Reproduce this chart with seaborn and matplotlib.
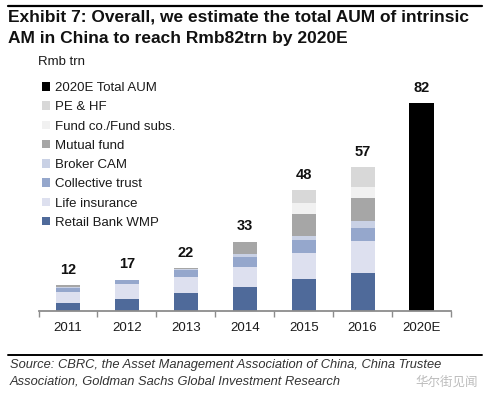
import matplotlib
matplotlib.use("Agg")
import matplotlib.pyplot as plt
from matplotlib.patches import Patch
from matplotlib.lines import Line2D
import seaborn as sns
import numpy as np
import pandas as pd

# ---- data ----
years = ['2011', '2012', '2013', '2014', '2015', '2016', '2020E']
retail_bank_wmp = [3.0, 4.6, 7.2, 9.6, 12.6, 14.9, 0]
life_insurance = [4.6, 6.0, 6.3, 7.9, 10.4, 12.5, 0]
collective_trust = [1.3, 1.6, 2.5, 3.9, 5.0, 5.3, 0]
broker_cam = [0.6, 0.2, 0.5, 0.9, 1.7, 2.6, 0]
mutual_fund = [0.6, 0.0, 0.5, 5.0, 8.4, 9.2, 0]
fund_co_subs = [0, 0, 0, 0, 4.3, 4.3, 0]
pe_hf = [0, 0, 0, 0, 5.2, 7.9, 0]
total_2020e = [0, 0, 0, 0, 0, 0, 82]
total_labels = [12, 17, 22, 33, 48, 57, 82]

series_names = ['Retail Bank WMP', 'Life insurance', 'Collective trust', 'Broker CAM',
                'Mutual fund', 'Fund co./Fund subs.', 'PE & HF', '2020E Total AUM']
series_values = [retail_bank_wmp, life_insurance, collective_trust, broker_cam,
                 mutual_fund, fund_co_subs, pe_hf, total_2020e]
colors = ['#4f6a9a', '#dde0ef', '#95a7cc', '#c9d1e5', '#a6a6a6', '#f1f1f1', '#d8d8d8', '#000000']

# ---- style ----
sns.set_theme(style="white")
plt.rcParams['font.family'] = ['Liberation Sans', 'DejaVu Sans']

W, H = 486, 394
fig = plt.figure(figsize=(W / 100, H / 100), dpi=100)

x0, x1 = 38.5, 451
base_y = 311
ymax = 90
px_per_unit = 2.537
top_px = base_y - ymax * px_per_unit
ax = fig.add_axes([x0 / W, 1 - base_y / H, (x1 - x0) / W, (base_y - top_px) / H])

df = pd.DataFrame({'year': years})
bottom = np.zeros(len(years))
for name, vals, col in zip(series_names, series_values, colors):
    df['v'] = vals
    sns.barplot(data=df, x='year', y='v', order=years, color=col, width=0.41,
                bottom=bottom.copy(), linewidth=0, saturation=1, ax=ax,
                errorbar=None)
    bottom = bottom + np.array(vals, dtype=float)

# value labels above the stacks
for i, (tot, lab) in enumerate(zip(bottom, total_labels)):
    ax.annotate(str(lab), xy=(i, tot), xytext=(0, 11), textcoords='offset points',
                ha='center', va='center', fontsize=10.5, fontweight='bold', color='#111111')

ax.set_xlim(-0.5, 6.5)
ax.set_ylim(0, ymax)
ax.set_xlabel('')
ax.set_ylabel('')
ax.set_yticks([])
for s in ['top', 'right', 'left']:
    ax.spines[s].set_visible(False)
ax.spines['bottom'].set_color('#8c8c8c')
ax.spines['bottom'].set_linewidth(1.3)
ax.set_xticks(np.arange(-0.5, 7.0, 1.0), minor=True)
ax.tick_params(axis='x', which='minor', bottom=True, length=4, width=1, color='#8c8c8c', direction='out')
ax.tick_params(axis='x', which='major', bottom=False, length=0, pad=8, labelsize=9.5, labelcolor='#1a1a1a')

# legend
handles = [Patch(facecolor=c, edgecolor='none', label=n)
           for n, c in zip(series_names[::-1], colors[::-1])]
fig.legend(handles=handles, loc='upper left', bbox_to_anchor=(42 / W, 1 - 82 / H),
           bbox_transform=fig.transFigure, frameon=False, fontsize=9.5,
           handlelength=0.6, handleheight=0.6, handletextpad=0.35,
           labelspacing=0.55, borderpad=0, borderaxespad=0, labelcolor='#1a1a1a')

fig.text(38 / W, 1 - 62 / H, 'Rmb trn', fontsize=9.5, va='center', ha='left', color='#1a1a1a')

# title and rules
fig.add_artist(Line2D([8 / W, 482 / W], [1 - 6 / H, 1 - 6 / H], color='black', lw=1.6,
                      transform=fig.transFigure))
fig.text(8 / W, 1 - 17 / H, 'Exhibit 7: Overall, we estimate the total AUM of intrinsic',
         fontsize=12.5, fontweight='bold', va='center', ha='left', color='#111111')
fig.text(8 / W, 1 - 38.5 / H, 'AM in China to reach Rmb82trn by 2020E',
         fontsize=12.5, fontweight='bold', va='center', ha='left', color='#111111')

fig.add_artist(Line2D([8 / W, 482 / W], [1 - 355 / H, 1 - 355 / H], color='black', lw=1.4,
                      transform=fig.transFigure))
fig.text(10 / W, 1 - 365 / H,
         'Source: CBRC, the Asset Management Association of China, China Trustee',
         fontsize=9.3, style='italic', va='center', ha='left', color='#333333')
fig.text(10 / W, 1 - 382 / H,
         'Association, Goldman Sachs Global Investment Research',
         fontsize=9.3, style='italic', va='center', ha='left', color='#333333')
fig.text(478 / W, 1 - 382 / H, '华尔街见闻', fontsize=9, va='center', ha='right',
         color='#b5b5b5', alpha=0.9, family=['Noto Sans CJK SC', 'DejaVu Sans'])

fig.savefig('out.png', dpi=100)
